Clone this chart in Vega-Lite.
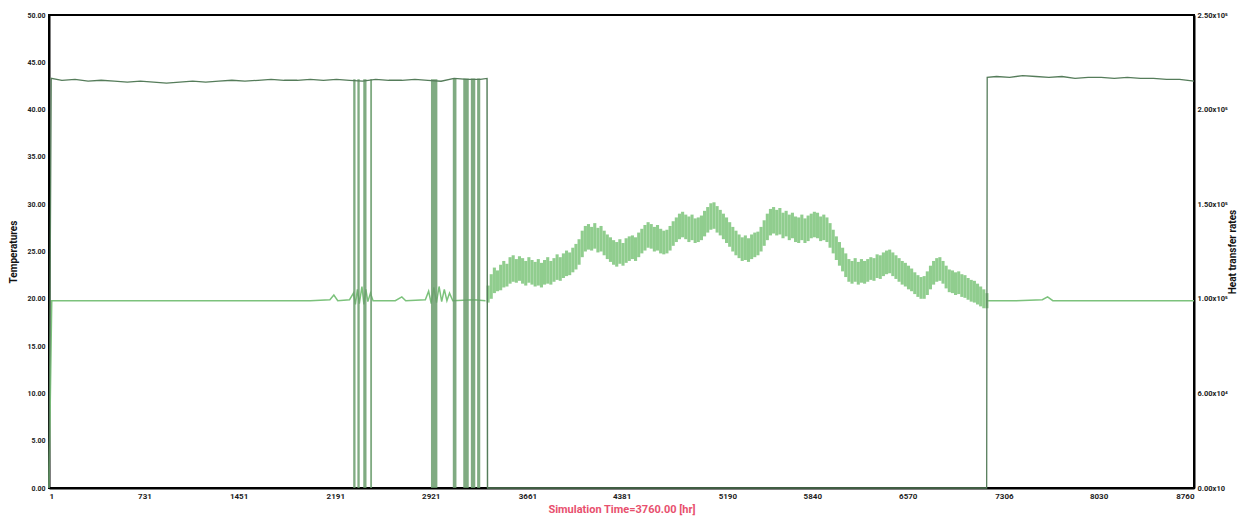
{
  "$schema": "https://vega.github.io/schema/vega-lite/v6.json",
  "width": 1145,
  "height": 473,
  "autosize": {"type": "none"},
  "padding": {"left": 49, "top": 15, "right": 62, "bottom": 28},
  "background": "white",
  "config": {
    "view": {"stroke": "#000", "strokeWidth": 2},
    "axis": {"labelFont": "Roboto", "titleFont": "Roboto", "grid": false, "ticks": false, "domainColor": "#000", "domainWidth": 2, "labelFontWeight": "bold", "labelColor": "#222", "zindex": 1}
  },
  "datasets": {
    "dark": [
      {"t":1,"v":0},{"t":18,"v":43.3},{"t":100,"v":43.1},{"t":200,"v":43.2},{"t":300,"v":43.0},{"t":400,"v":43.1},{"t":500,"v":43.0},{"t":600,"v":42.9},{"t":700,"v":43.0},{"t":800,"v":42.9},{"t":900,"v":42.8},{"t":1000,"v":42.9},{"t":1100,"v":43.0},{"t":1200,"v":42.9},{"t":1300,"v":43.0},{"t":1400,"v":43.1},{"t":1500,"v":43.0},{"t":1600,"v":43.1},{"t":1700,"v":43.2},{"t":1800,"v":43.1},{"t":1900,"v":43.1},{"t":2000,"v":43.2},{"t":2100,"v":43.1},{"t":2200,"v":43.2},{"t":2300,"v":43.1},{"t":2400,"v":43.0},{"t":2500,"v":43.2},{"t":2600,"v":43.1},{"t":2700,"v":43.1},{"t":2800,"v":43.2},{"t":2900,"v":43.1},{"t":3000,"v":43.0},{"t":3100,"v":43.3},{"t":3200,"v":43.2},{"t":3300,"v":43.2},{"t":3352,"v":43.3},{"t":3356,"v":0},{"t":7174,"v":0},{"t":7178,"v":43.4},{"t":7250,"v":43.5},{"t":7350,"v":43.4},{"t":7450,"v":43.6},{"t":7550,"v":43.5},{"t":7650,"v":43.4},{"t":7750,"v":43.5},{"t":7850,"v":43.3},{"t":7950,"v":43.4},{"t":8050,"v":43.4},{"t":8150,"v":43.3},{"t":8250,"v":43.4},{"t":8350,"v":43.3},{"t":8450,"v":43.3},{"t":8550,"v":43.2},{"t":8650,"v":43.2},{"t":8760,"v":43.0}
    ],
    "light": [
      {"seg":"a","t":1,"v":0},{"seg":"a","t":22,"v":19.8},{"seg":"a","t":400,"v":19.8},{"seg":"a","t":800,"v":19.8},{"seg":"a","t":1200,"v":19.8},{"seg":"a","t":1600,"v":19.8},{"seg":"a","t":2000,"v":19.8},{"seg":"a","t":2150,"v":19.9},{"seg":"a","t":2180,"v":20.4},{"seg":"a","t":2210,"v":19.8},{"seg":"a","t":2300,"v":19.9},{"seg":"a","t":2330,"v":20.6},{"seg":"a","t":2345,"v":19.4},{"seg":"a","t":2360,"v":21.0},{"seg":"a","t":2375,"v":19.5},{"seg":"a","t":2395,"v":21.3},{"seg":"a","t":2410,"v":19.4},{"seg":"a","t":2425,"v":21.0},{"seg":"a","t":2440,"v":19.7},{"seg":"a","t":2460,"v":20.6},{"seg":"a","t":2480,"v":19.8},{"seg":"a","t":2650,"v":19.8},{"seg":"a","t":2700,"v":20.2},{"seg":"a","t":2730,"v":19.8},{"seg":"a","t":2880,"v":19.9},{"seg":"a","t":2905,"v":20.8},{"seg":"a","t":2925,"v":19.5},{"seg":"a","t":2945,"v":21.2},{"seg":"a","t":2965,"v":19.6},{"seg":"a","t":2985,"v":21.3},{"seg":"a","t":3005,"v":19.7},{"seg":"a","t":3025,"v":21.0},{"seg":"a","t":3045,"v":19.8},{"seg":"a","t":3065,"v":20.6},{"seg":"a","t":3090,"v":19.8},{"seg":"a","t":3250,"v":19.9},{"seg":"a","t":3340,"v":19.8},
      {"seg":"b","t":7176,"v":19.8},{"seg":"b","t":7400,"v":19.8},{"seg":"b","t":7600,"v":19.9},{"seg":"b","t":7640,"v":20.2},{"seg":"b","t":7680,"v":19.8},{"seg":"b","t":8000,"v":19.8},{"seg":"b","t":8400,"v":19.8},{"seg":"b","t":8760,"v":19.8}
    ],
    "band": [
      {"t":3360,"lo":19.6,"hi":21.4},{"t":3384,"lo":20.0,"hi":22.6},{"t":3408,"lo":20.6,"hi":23.3},{"t":3432,"lo":20.8,"hi":23.0},{"t":3456,"lo":20.9,"hi":23.6},{"t":3480,"lo":21.2,"hi":24.0},{"t":3504,"lo":21.3,"hi":23.7},{"t":3528,"lo":21.6,"hi":24.4},{"t":3552,"lo":21.8,"hi":24.6},{"t":3576,"lo":21.7,"hi":24.2},
      {"t":3600,"lo":21.9,"hi":24.5},{"t":3624,"lo":21.6,"hi":24.3},{"t":3648,"lo":21.4,"hi":24.0},{"t":3672,"lo":21.7,"hi":24.4},{"t":3696,"lo":21.5,"hi":24.1},{"t":3720,"lo":21.3,"hi":23.9},{"t":3744,"lo":21.4,"hi":24.2},{"t":3768,"lo":21.2,"hi":23.8},{"t":3792,"lo":21.5,"hi":24.1},{"t":3816,"lo":21.6,"hi":24.4},
      {"t":3840,"lo":21.5,"hi":24.0},{"t":3864,"lo":21.8,"hi":24.3},{"t":3888,"lo":22.0,"hi":24.7},{"t":3912,"lo":21.9,"hi":24.4},{"t":3936,"lo":22.2,"hi":24.8},{"t":3960,"lo":22.4,"hi":25.1},{"t":3984,"lo":22.5,"hi":24.9},{"t":4008,"lo":22.8,"hi":25.4},{"t":4032,"lo":23.1,"hi":25.8},{"t":4056,"lo":23.6,"hi":26.3},
      {"t":4080,"lo":24.4,"hi":27.2},{"t":4104,"lo":25.0,"hi":27.7},{"t":4128,"lo":25.2,"hi":27.9},{"t":4152,"lo":25.1,"hi":27.6},{"t":4176,"lo":25.3,"hi":28.0},{"t":4200,"lo":24.9,"hi":27.5},{"t":4224,"lo":25.0,"hi":27.7},{"t":4248,"lo":24.6,"hi":27.2},{"t":4272,"lo":24.2,"hi":26.8},{"t":4296,"lo":23.9,"hi":26.5},
      {"t":4320,"lo":23.6,"hi":26.2},{"t":4344,"lo":23.4,"hi":26.0},{"t":4368,"lo":23.7,"hi":26.3},{"t":4392,"lo":23.5,"hi":25.9},{"t":4416,"lo":23.8,"hi":26.4},{"t":4440,"lo":24.0,"hi":26.6},{"t":4464,"lo":24.2,"hi":26.7},{"t":4488,"lo":24.0,"hi":26.5},{"t":4512,"lo":24.4,"hi":27.0},{"t":4536,"lo":24.8,"hi":27.4},
      {"t":4560,"lo":25.1,"hi":27.8},{"t":4584,"lo":25.4,"hi":28.1},{"t":4608,"lo":25.3,"hi":27.9},{"t":4632,"lo":25.0,"hi":27.6},{"t":4656,"lo":25.1,"hi":27.8},{"t":4680,"lo":24.8,"hi":27.4},{"t":4704,"lo":24.7,"hi":27.2},{"t":4728,"lo":24.8,"hi":27.3},{"t":4752,"lo":25.1,"hi":27.7},{"t":4776,"lo":25.6,"hi":28.2},
      {"t":4800,"lo":26.0,"hi":28.6},{"t":4824,"lo":26.3,"hi":29.0},{"t":4848,"lo":26.5,"hi":29.2},{"t":4872,"lo":26.3,"hi":28.9},{"t":4896,"lo":26.0,"hi":28.7},{"t":4920,"lo":26.2,"hi":28.9},{"t":4944,"lo":25.9,"hi":28.5},{"t":4968,"lo":26.0,"hi":28.6},{"t":4992,"lo":26.2,"hi":28.8},{"t":5016,"lo":26.6,"hi":29.3},
      {"t":5040,"lo":27.0,"hi":29.7},{"t":5064,"lo":27.3,"hi":30.1},{"t":5088,"lo":27.4,"hi":30.2},{"t":5112,"lo":27.0,"hi":29.8},{"t":5136,"lo":26.7,"hi":29.4},{"t":5160,"lo":26.3,"hi":29.0},{"t":5184,"lo":25.9,"hi":28.6},{"t":5208,"lo":25.5,"hi":28.1},{"t":5232,"lo":25.0,"hi":27.6},{"t":5256,"lo":24.6,"hi":27.2},
      {"t":5280,"lo":24.3,"hi":26.8},{"t":5304,"lo":24.0,"hi":26.5},{"t":5328,"lo":24.1,"hi":26.7},{"t":5352,"lo":23.9,"hi":26.4},{"t":5376,"lo":24.2,"hi":26.8},{"t":5400,"lo":24.4,"hi":27.0},{"t":5424,"lo":24.6,"hi":27.1},{"t":5448,"lo":25.0,"hi":27.6},{"t":5472,"lo":25.6,"hi":28.3},{"t":5496,"lo":26.2,"hi":29.0},
      {"t":5520,"lo":26.7,"hi":29.5},{"t":5544,"lo":26.9,"hi":29.7},{"t":5568,"lo":26.7,"hi":29.4},{"t":5592,"lo":26.8,"hi":29.6},{"t":5616,"lo":26.4,"hi":29.1},{"t":5640,"lo":26.6,"hi":29.3},{"t":5664,"lo":26.2,"hi":28.9},{"t":5688,"lo":26.4,"hi":29.1},{"t":5712,"lo":26.0,"hi":28.7},{"t":5736,"lo":25.9,"hi":28.6},
      {"t":5760,"lo":26.2,"hi":28.9},{"t":5784,"lo":25.9,"hi":28.5},{"t":5808,"lo":26.1,"hi":28.8},{"t":5832,"lo":26.4,"hi":29.0},{"t":5856,"lo":26.5,"hi":29.2},{"t":5880,"lo":26.4,"hi":29.1},{"t":5904,"lo":26.1,"hi":28.7},{"t":5928,"lo":26.2,"hi":28.9},{"t":5952,"lo":26.0,"hi":28.6},{"t":5976,"lo":25.4,"hi":28.0},
      {"t":6000,"lo":24.8,"hi":27.3},{"t":6024,"lo":24.1,"hi":26.6},{"t":6048,"lo":23.5,"hi":26.0},{"t":6072,"lo":22.9,"hi":25.4},{"t":6096,"lo":22.3,"hi":24.8},{"t":6120,"lo":21.8,"hi":24.2},{"t":6144,"lo":21.6,"hi":24.0},{"t":6168,"lo":21.8,"hi":24.3},{"t":6192,"lo":21.5,"hi":23.9},{"t":6216,"lo":21.7,"hi":24.2},
      {"t":6240,"lo":21.6,"hi":24.0},{"t":6264,"lo":21.8,"hi":24.2},{"t":6288,"lo":22.0,"hi":24.4},{"t":6312,"lo":21.9,"hi":24.3},{"t":6336,"lo":22.2,"hi":24.7},{"t":6360,"lo":22.1,"hi":24.6},{"t":6384,"lo":22.4,"hi":24.9},{"t":6408,"lo":22.6,"hi":25.1},{"t":6432,"lo":22.7,"hi":25.2},{"t":6456,"lo":22.4,"hi":24.9},
      {"t":6480,"lo":22.1,"hi":24.6},{"t":6504,"lo":21.8,"hi":24.3},{"t":6528,"lo":21.5,"hi":24.0},{"t":6552,"lo":21.3,"hi":23.8},{"t":6576,"lo":21.0,"hi":23.5},{"t":6600,"lo":20.8,"hi":23.2},{"t":6624,"lo":20.5,"hi":22.8},{"t":6648,"lo":20.2,"hi":22.5},{"t":6672,"lo":20.0,"hi":22.3},{"t":6696,"lo":20.0,"hi":22.4},
      {"t":6720,"lo":20.4,"hi":22.9},{"t":6744,"lo":21.0,"hi":23.5},{"t":6768,"lo":21.5,"hi":24.0},{"t":6792,"lo":21.8,"hi":24.3},{"t":6816,"lo":21.9,"hi":24.4},{"t":6840,"lo":21.6,"hi":24.0},{"t":6864,"lo":21.1,"hi":23.5},{"t":6888,"lo":20.7,"hi":23.1},{"t":6912,"lo":20.6,"hi":23.0},{"t":6936,"lo":20.4,"hi":22.8},
      {"t":6960,"lo":20.5,"hi":22.9},{"t":6984,"lo":20.2,"hi":22.6},{"t":7008,"lo":20.1,"hi":22.5},{"t":7032,"lo":19.9,"hi":22.2},{"t":7056,"lo":19.7,"hi":22.0},{"t":7080,"lo":19.6,"hi":21.9},{"t":7104,"lo":19.4,"hi":21.6},{"t":7128,"lo":19.2,"hi":21.3},{"t":7152,"lo":19.0,"hi":21.0},{"t":7176,"lo":19.0,"hi":20.6}
    ],
    "bars": [
      {"t0":2328,"t1":2346,"lo":0,"hi":43.2},{"t0":2360,"t1":2378,"lo":0,"hi":43.2},{"t0":2405,"t1":2430,"lo":0,"hi":43.2},{"t0":2458,"t1":2472,"lo":0,"hi":43.2},{"t0":2923,"t1":2972,"lo":0,"hi":43.2},{"t0":3090,"t1":3118,"lo":0,"hi":43.3},{"t0":3170,"t1":3212,"lo":0,"hi":43.3},{"t0":3228,"t1":3262,"lo":0,"hi":43.3},{"t0":3276,"t1":3300,"lo":0,"hi":43.3},{"t0":3350,"t1":3354,"lo":0,"hi":43.3}
    ],
    "rate": [{"q":0},{"q":250000}]
  },
  "layer": [
    {
      "layer": [
        {
          "data": {"name": "light"},
          "mark": {"type": "line", "color": "#7cc27c", "strokeWidth": 1.5},
          "encoding": {
            "x": {"field": "t", "type": "quantitative", "title": "Simulation Time=3760.00 [hr]", "scale": {"domain": [1, 8760], "nice": false, "zero": false},
                  "axis": {"values": [1,731,1451,2191,2921,3661,4381,5190,5840,6570,7306,8030,8760], "format": "d", "labelFontSize": 8, "labelPadding": 4, "titleColor": "#e8506e", "titleFontSize": 11, "titleFontWeight": "bold", "titlePadding": 3}},
            "y": {"field": "v", "type": "quantitative", "title": "Temperatures", "scale": {"domain": [0, 50], "nice": false},
                  "axis": {"values": [0,5,10,15,20,25,30,35,40,45,50], "format": ".2f", "labelFontSize": 7, "labelPadding": 4, "titleFontSize": 10, "titleFontWeight": "bold", "titlePadding": 8, "titleColor": "#111"}},
            "detail": {"field": "seg", "type": "nominal"}
          }
        },
        {
          "data": {"name": "band"},
          "mark": {"type": "rule", "color": "#7cc47a", "strokeWidth": 3.1, "opacity": 0.85},
          "encoding": {
            "x": {"field": "t", "type": "quantitative", "title": "Simulation Time=3760.00 [hr]"},
            "y": {"field": "lo", "type": "quantitative", "title": "Temperatures"},
            "y2": {"field": "hi"}
          }
        },
        {
          "data": {"name": "bars"},
          "mark": {"type": "rect", "color": "#6a9c6c", "opacity": 0.85},
          "encoding": {
            "x": {"field": "t0", "type": "quantitative", "title": "Simulation Time=3760.00 [hr]"},
            "x2": {"field": "t1"},
            "y": {"field": "lo", "type": "quantitative", "title": "Temperatures"},
            "y2": {"field": "hi"}
          }
        },
        {
          "data": {"name": "dark"},
          "mark": {"type": "line", "color": "#557c5a", "strokeWidth": 1.3},
          "encoding": {
            "x": {"field": "t", "type": "quantitative", "title": "Simulation Time=3760.00 [hr]"},
            "y": {"field": "v", "type": "quantitative", "title": "Temperatures"}
          }
        }
      ]
    },
    {
      "data": {"name": "rate"},
      "mark": {"type": "point", "opacity": 0},
      "encoding": {
        "y": {"field": "q", "type": "quantitative", "title": "Heat transfer rates", "scale": {"domain": [0, 250000], "nice": false},
              "axis": {"orient": "right", "values": [0,50000,100000,150000,200000,250000], "labelExpr": "datum.value == 0 ? '0.00x10' : datum.value == 50000 ? '6.00x10⁴' : format(datum.value / 100000, '.2f') + 'x10⁵'", "labelFontSize": 7.5, "labelPadding": 3, "titleFontSize": 10, "titleFontWeight": "bold", "titlePadding": 10, "titleAngle": 270, "titleColor": "#111"}}
      }
    }
  ],
  "resolve": {"scale": {"y": "independent"}}
}
